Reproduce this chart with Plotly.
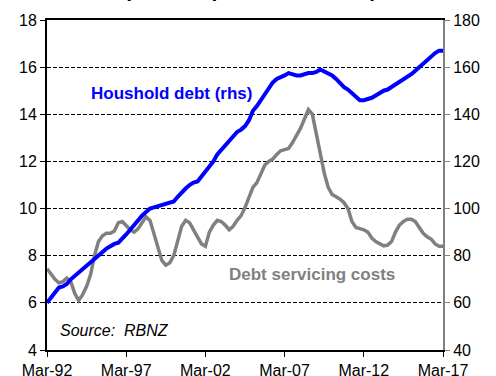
import pandas as pd
import plotly.graph_objects as go

# Quarterly dates Mar-92 .. Mar-17
dates = pd.date_range("1992-03-01", "2017-03-01", freq="3MS")

# Household debt, % of disposable income (right axis)
household_debt = [
    60, 62, 64.5, 66.5,
    67, 68, 70, 71.5,
    73, 74.5, 76, 77.5,
    79, 80.5, 82, 83,
    84, 85, 85.5, 87,
    89, 91, 93, 95.5,
    97, 98.5, 100, 100.5,
    101, 101.5, 102, 102.5,
    103, 105, 107, 108.5,
    110, 111, 111.5, 113.5,
    116, 118, 120, 123,
    125, 127, 129, 131,
    132.5, 133.5, 135, 137.5,
    141.5, 143.5, 146, 148.5,
    151, 153.5, 155, 156,
    156.5, 157.5, 157, 156.5,
    156.5, 157, 157.5, 157.5,
    158, 159, 158, 157,
    156.5, 155, 153, 151.5,
    150.5, 149, 147.5, 146,
    146, 146.5, 147, 148,
    149, 150, 150.5, 151.5,
    152.5, 154, 155, 156,
    157, 158.5, 160, 162,
    163, 164.5, 166, 167,
    167,
]

# Debt servicing costs, % of disposable income (left axis)
debt_servicing = [
    7.45, 7.2, 7.0, 6.85,
    6.9, 7.05, 6.9, 6.4,
    6.1, 6.35, 6.7, 7.2,
    8.0, 8.6, 8.85, 8.95,
    8.95, 9.05, 9.4, 9.45,
    9.25, 9.1, 9.0, 9.15,
    9.4, 9.65, 9.5, 8.9,
    8.3, 7.8, 7.6, 7.7,
    8.0, 8.7, 9.25, 9.5,
    9.4, 9.1, 8.8, 8.5,
    8.4, 9.0, 9.3, 9.5,
    9.45, 9.3, 9.1, 9.25,
    9.5, 9.7, 10.05, 10.5,
    10.9, 11.1, 11.45, 11.85,
    12.0, 12.1, 12.3, 12.45,
    12.5, 12.55, 12.8, 13.1,
    13.4, 13.8, 14.2, 14.0,
    13.2, 12.4, 11.5, 10.9,
    10.6, 10.5, 10.4, 10.25,
    10.0, 9.45, 9.2, 9.15,
    9.1, 9.0, 8.75, 8.6,
    8.5, 8.42, 8.45, 8.6,
    9.0, 9.3, 9.45, 9.55,
    9.55, 9.45, 9.2, 8.95,
    8.8, 8.7, 8.5, 8.4,
    8.4,
]

left_ticks = [4, 6, 8, 10, 12, 14, 16, 18]
right_ticks = [40, 60, 80, 100, 120, 140, 160, 180]
x_tick_dates = ["1992-03-01", "1997-03-01", "2002-03-01", "2007-03-01", "2012-03-01", "2017-03-01"]
x_tick_labels = ["Mar-92", "Mar-97", "Mar-02", "Mar-07", "Mar-12", "Mar-17"]

FONT = "Liberation Sans, Arial, sans-serif"

fig = go.Figure()
fig.add_trace(go.Scatter(x=dates, y=debt_servicing, mode="lines",
                         line=dict(color="rgb(128,128,128)", width=3.5),
                         yaxis="y", showlegend=False))
fig.add_trace(go.Scatter(x=dates, y=household_debt, mode="lines",
                         line=dict(color="rgb(0,0,255)", width=4),
                         yaxis="y2", showlegend=False))

fig.update_layout(
    width=496, height=376,
    margin=dict(l=47, r=53, t=20, b=26, autoexpand=False),
    paper_bgcolor="white", plot_bgcolor="white",
    font=dict(family=FONT, size=16, color="black"),
    xaxis=dict(
        type="date", automargin=False,
        range=["1992-03-01", "2017-03-01"],
        tickvals=x_tick_dates, ticktext=x_tick_labels,
        showgrid=False, zeroline=False,
        showline=True, linecolor="black", linewidth=1.5, mirror=True,
        ticks="outside", ticklen=5, tickcolor="black", tickwidth=1,
        tickfont=dict(size=16),
    ),
    yaxis=dict(
        range=[4, 18], tickvals=left_ticks, automargin=False,
        showgrid=True, gridcolor="black", gridwidth=1, griddash="4px,2px",
        zeroline=False,
        showline=True, linecolor="black", linewidth=2,
        ticks="outside", ticklen=5, tickcolor="black",
        tickfont=dict(size=16),
    ),
    yaxis2=dict(
        range=[40, 180], tickvals=right_ticks, automargin=False,
        overlaying="y", side="right",
        showgrid=False, zeroline=False,
        showline=True, linecolor="rgb(128,128,128)", linewidth=2,
        ticks="outside", ticklen=5, tickcolor="rgb(128,128,128)",
        tickfont=dict(size=16),
    ),
    annotations=[
        dict(text="<b>(% of disposable income)</b>", xref="paper", yref="paper",
             x=(250 - 47) / 396, y=(350 - 3.5) / 330, xanchor="center", yanchor="bottom",
             showarrow=False, font=dict(size=21, color="black")),
        dict(text="<b>Houshold debt (rhs)</b>", xref="paper", yref="paper",
             x=(171 - 47) / 396, y=(350 - 93) / 330, xanchor="center", yanchor="middle",
             showarrow=False, font=dict(size=17, color="rgb(0,0,255)")),
        dict(text="<b>Debt servicing costs</b>", xref="paper", yref="paper",
             x=(311.5 - 47) / 396, y=(350 - 274) / 330, xanchor="center", yanchor="middle",
             showarrow=False, font=dict(size=17, color="rgb(128,128,128)")),
        dict(text="<i>Source:  RBNZ</i>", xref="paper", yref="paper",
             x=(58 - 47) / 396, y=(350 - 330) / 330, xanchor="left", yanchor="middle",
             showarrow=False, font=dict(size=16, color="black")),
    ],
)

fig.write_html("out.html", config={"displayModeBar": False},
               post_script="document.body.style.margin='0';document.body.style.overflow='hidden';")
